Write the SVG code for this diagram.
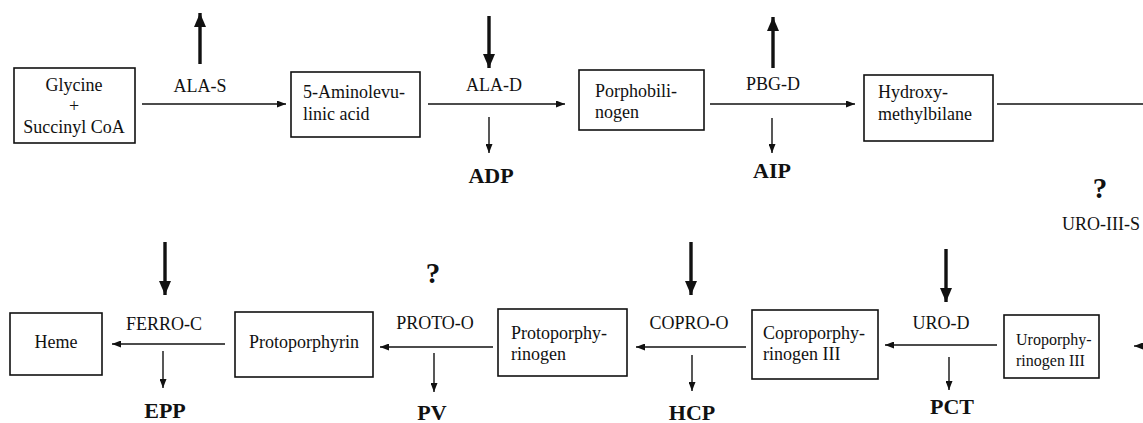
<svg xmlns="http://www.w3.org/2000/svg" width="1143" height="423" viewBox="0 0 1143 423">
<style>
.box{fill:#fff;stroke:#111;stroke-width:1.6}
.t{font-family:"Liberation Serif","Times New Roman",serif;font-size:18px;fill:#111}
.s{font-size:16px}
.c{text-anchor:middle}
.b{font-family:"Liberation Serif","Times New Roman",serif;font-size:22px;font-weight:bold;fill:#111;text-anchor:middle}
.q{font-family:"Liberation Serif","Times New Roman",serif;font-size:29px;font-weight:bold;fill:#111;text-anchor:middle}
.thin{stroke:#111;stroke-width:1.4;fill:none;marker-end:url(#ah)}
.thick{stroke:#111;stroke-width:3.4;fill:none;marker-end:url(#ahb)}
.plain{stroke:#111;stroke-width:1.4;fill:none}
</style>
<defs>
<marker id="ah" markerUnits="userSpaceOnUse" markerWidth="9" markerHeight="7" refX="9" refY="3.5" orient="auto"><path d="M0,0 L9,3.5 L0,7 z" fill="#111"/></marker>
<marker id="ahb" markerUnits="userSpaceOnUse" markerWidth="14" markerHeight="12" refX="14" refY="6" orient="auto"><path d="M0,0 L14,6 L0,12 z" fill="#111"/></marker>
</defs>
<rect width="1143" height="423" fill="#fff"/>

<g id="glycine"><rect class="box" x="14" y="68" width="121" height="75"/>
<text class="t c" x="74" y="91">Glycine</text><text class="t c" x="74" y="112">+</text><text class="t c" x="74" y="133">Succinyl CoA</text></g>
<g id="ala"><rect class="box" x="291" y="72" width="129" height="65"/>
<text class="t" x="303" y="98">5-Aminolevu-</text><text class="t" x="303" y="120">linic acid</text></g>
<g id="pbg"><rect class="box" x="579" y="70" width="125" height="60"/>
<text class="t" x="595" y="97">Porphobili-</text><text class="t" x="595" y="118">nogen</text></g>
<g id="hmb"><rect class="box" x="864" y="75" width="129" height="66"/>
<text class="t" x="878" y="98">Hydroxy-</text><text class="t" x="878" y="120">methylbilane</text></g>
<g id="uro"><rect class="box" x="1004" y="315" width="95" height="63"/>
<text class="t s" x="1016" y="345">Uroporphy-</text><text class="t s" x="1016" y="366">rinogen III</text></g>
<g id="copro"><rect class="box" x="752" y="310" width="126" height="69"/>
<text class="t" x="763" y="339">Coproporphy-</text><text class="t" x="763" y="360">rinogen III</text></g>
<g id="protogen"><rect class="box" x="498" y="309" width="129" height="67"/>
<text class="t" x="511" y="339">Protoporphy-</text><text class="t" x="511" y="360">rinogen</text></g>
<g id="proto"><rect class="box" x="235" y="312" width="138" height="65"/>
<text class="t c" x="304" y="348">Protoporphyrin</text></g>
<g id="heme"><rect class="box" x="10" y="313" width="92" height="62"/>
<text class="t c" x="56" y="348">Heme</text></g>

<g id="labels">
<text class="t c" x="200" y="92">ALA-S</text>
<text class="t c" x="494" y="91">ALA-D</text>
<text class="t c" x="773" y="90">PBG-D</text>
<text class="t" x="1062" y="230">URO-III-S</text>
<text class="t c" x="941" y="329">URO-D</text>
<text class="t c" x="689" y="329">COPRO-O</text>
<text class="t c" x="435" y="329">PROTO-O</text>
<text class="t c" x="164" y="330">FERRO-C</text>
<text class="b" x="491" y="183">ADP</text>
<text class="b" x="772" y="178">AIP</text>
<text class="b" x="952" y="414">PCT</text>
<text class="b" x="692" y="420">HCP</text>
<text class="b" x="432" y="420">PV</text>
<text class="b" x="165" y="418">EPP</text>
<text class="q" x="1100" y="198">?</text>
<text class="q" x="433" y="283">?</text>
</g>

<g id="connectors">
<line class="thin" x1="142" y1="104" x2="286" y2="104"/>
<line class="thin" x1="428" y1="104" x2="565" y2="104"/>
<line class="thin" x1="710" y1="104" x2="855" y2="104"/>
<line class="plain" x1="997" y1="104" x2="1143" y2="104"/>
<line class="thin" x1="1143" y1="346" x2="1134" y2="346"/>
<line class="thin" x1="997" y1="345" x2="885" y2="345"/>
<line class="thin" x1="746" y1="347" x2="636" y2="347"/>
<line class="thin" x1="493" y1="347" x2="380" y2="347"/>
<line class="thin" x1="225" y1="344" x2="112" y2="344"/>
<line class="thick" x1="200" y1="64" x2="200" y2="13"/>
<line class="thick" x1="489" y1="16" x2="489" y2="68"/>
<line class="thick" x1="773" y1="68" x2="773" y2="17"/>
<line class="thick" x1="946" y1="249" x2="946" y2="302"/>
<line class="thick" x1="691" y1="242" x2="691" y2="295"/>
<line class="thick" x1="165" y1="242" x2="165" y2="295"/>
<line class="thin" x1="489" y1="117" x2="489" y2="153"/>
<line class="thin" x1="772" y1="118" x2="772" y2="153"/>
<line class="thin" x1="949" y1="357" x2="949" y2="390"/>
<line class="thin" x1="692" y1="355" x2="692" y2="391"/>
<line class="thin" x1="434" y1="353" x2="434" y2="392"/>
<line class="thin" x1="163" y1="351" x2="163" y2="388"/>
</g>
</svg>
